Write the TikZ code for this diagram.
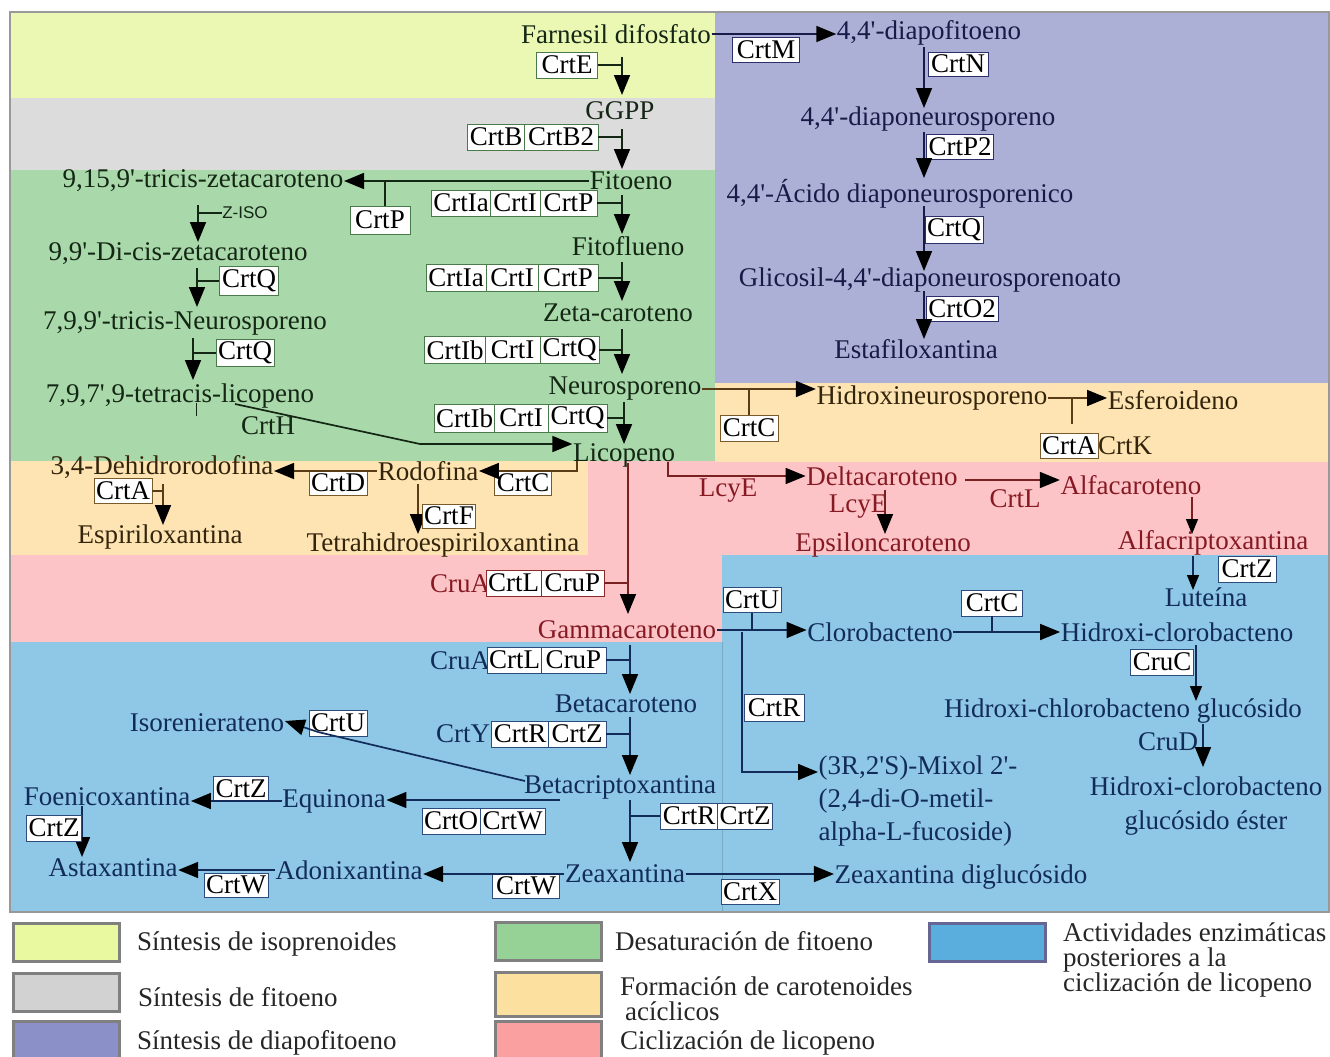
\documentclass[tikz,border=0pt]{standalone}
\usepackage{fontspec}
\setmainfont{Liberation Serif}[Ligatures=TeXOff]
\newfontfamily\sanslbl{Liberation Sans}
\usetikzlibrary{arrows.meta,calc}

% region fills
\definecolor{bgYel}{HTML}{EBF8B4}
\definecolor{bgGray}{HTML}{DCDCDC}
\definecolor{bgPurple}{HTML}{ADB0D6}
\definecolor{bgGreen}{HTML}{A9D9AA}
\definecolor{bgOrange}{HTML}{FDE4B2}
\definecolor{bgPink}{HTML}{FDC4C8}
\definecolor{bgBlue}{HTML}{8EC8E6}
% legend swatches
\definecolor{lgYel}{HTML}{E9F9A0}
\definecolor{lgGray}{HTML}{D2D2D2}
\definecolor{lgPurple}{HTML}{8C90C8}
\definecolor{lgGreen}{HTML}{96D296}
\definecolor{lgOrange}{HTML}{FCE0A0}
\definecolor{lgPink}{HTML}{FAA0A0}
\definecolor{lgBlue}{HTML}{5AAEDE}
% inks
\definecolor{inkG}{HTML}{142614}
\definecolor{boxG}{HTML}{4A7A4A}
\definecolor{inkP}{HTML}{181A48}
\definecolor{boxP}{HTML}{2B2F6A}
\definecolor{inkO}{HTML}{33240C}
\definecolor{lnO}{HTML}{5A3C18}
\definecolor{boxO}{HTML}{7A5A2A}
\definecolor{inkR}{HTML}{861A23}
\definecolor{lnR}{HTML}{7B2020}
\definecolor{boxR}{HTML}{8C2A2A}
\definecolor{inkB}{HTML}{122B58}
\definecolor{boxB}{HTML}{2C4C7C}

\newcommand\txtfont{\fontsize{27}{30}\selectfont}

\begin{document}
\begin{tikzpicture}[x=1pt,y=-1pt,
  cmp/.style={inner sep=0.5pt, font=\txtfont},
  enz/.style={draw, fill=white, text=black, inner xsep=2pt, inner ysep=0pt,
              minimum height=26pt, line width=0.9pt, font=\txtfont},
  arr/.style={line width=1.7pt, -{Triangle[length=20pt,width=16pt,color=black]}},
  sarr/.style={line width=1.4pt, -{Triangle[length=15pt,width=12pt,color=black]}},
  tick/.style={line width=1.7pt},
  swatch/.style={draw=black!50, line width=3pt, minimum width=106pt, minimum height=38pt, inner sep=0pt},
  legtxt/.style={inner sep=0pt, anchor=west, font=\fontsize{27}{25}\selectfont, text=black!85, align=left}]

\useasboundingbox (0,0) rectangle (1330,1057);

% ---------- background regions ----------
\fill[bgYel]    (10,12)   rectangle (715,98);
\fill[bgGray]   (10,98)   rectangle (715,170);
\fill[bgGreen]  (10,170)  rectangle (715,461);
\fill[bgPurple] (715,12)  rectangle (1330,383);
\fill[bgPink]   (588,461) rectangle (1330,555);
\fill[bgOrange] (715,383) rectangle (1330,462);
\fill[bgOrange] (10,461)  rectangle (588,555);
\fill[bgPink]   (10,555)  rectangle (722,642);
\fill[bgBlue]   (722,555) rectangle (1330,912);
\fill[bgBlue]   (10,642)  rectangle (722,912);
\draw[bgBlue!85!black, line width=0.4pt] (722,642) -- (722,912);
\draw[black!40, line width=2pt] (10,12) rectangle (1329,912);

% ---------- isoprenoids, phytoene and desaturation ----------
\begin{scope}[color=inkG]
  \node[cmp] (fds)  at (616,34)  {Farnesil difosfato};
  \node[enz, draw=boxG, minimum width=61pt] (crtE) at (567,65) {CrtE};
  \node[cmp] (ggpp) at (620,111) {GGPP};
  \node[enz, draw=boxG, minimum width=56pt] (crtB)  at (496,137) {CrtB};
  \node[enz, draw=boxG, minimum width=74pt] (crtB2) at (561,137) {CrtB2};
  \node[cmp] (fit)  at (631,181) {Fitoeno};

  \coordinate (p1) at (622,57);  \coordinate (p1e) at (622,95);
  \draw[arr] (p1) -- (p1e);
  \draw[tick] (crtE.east) -- (crtE.east -| p1);
  \coordinate (p2) at (622,129); \coordinate (p2e) at (622,169);
  \draw[arr] (p2) -- (p2e);
  \draw[tick] (crtB2.east) -- (crtB2.east -| p2);

  % cis branch
  \node[cmp] (tz) at (203,181) {9,15,9'-tricis-zetacaroteno};
  \node[enz, draw=boxG, minimum width=60pt, minimum height=28pt] (crtPa) at (380,220) {CrtP};
  \draw[arr] (fit.west) -- (fit.west -| tz.east);
  \draw[tick] ([xshift=5pt]crtPa.north) -- ([xshift=5pt]crtPa.north |- fit.west);

  \coordinate (z1) at (198,205); \coordinate (z1e) at (198,242);
  \node[inner sep=0pt, font=\sanslbl\fontsize{17}{18}\selectfont] (ziso) at (245,213) {Z-ISO};
  \draw[arr] (z1) -- (z1e);
  \draw[tick] (ziso.west) -- (ziso.west -| z1);

  \node[cmp] (dicis) at (178,254) {9,9'-Di-cis-zetacaroteno};
  \node[enz, draw=boxG, minimum width=59pt, minimum height=29pt] (crtQa) at (249,281) {CrtQ};
  \coordinate (z2) at (197,268); \coordinate (z2e) at (197,307);
  \draw[arr] (z2) -- (z2e);
  \draw[tick] (crtQa.west) -- (crtQa.west -| z2);

  \node[cmp] (tricis) at (185,323) {7,9,9'-tricis-Neurosporeno};
  \node[enz, draw=boxG, minimum width=57pt, minimum height=27pt] (crtQb) at (245,353) {CrtQ};
  \coordinate (z3) at (193,338); \coordinate (z3e) at (193,380);
  \draw[arr] (z3) -- (z3e);
  \draw[tick] (crtQb.west) -- (crtQb.west -| z3);

  \node[cmp] (tetra) at (180,396) {7,9,7',9-tetracis-licopeno};
  \coordinate (h0) at (196,403);
  \draw[line width=1pt] (h0) -- ++(0,13);
  \node[cmp] (crtH) at (268,426) {CrtH};

  % main desaturation column
  \node[enz, draw=boxG, minimum width=58pt] (ia1) at (461,203)   {CrtIa};
  \node[enz, draw=boxG, minimum width=50pt] (ii1) at (515,203)   {CrtI};
  \node[enz, draw=boxG, minimum width=57pt] (ip1) at (568.5,203) {CrtP};
  \coordinate (r1) at (622,195); \coordinate (r1e) at (622,234);
  \draw[arr] (r1) -- (r1e);
  \draw[tick] (ip1.east) -- (ip1.east -| r1);
  \node[cmp] (fitf) at (628,246) {Fitoflueno};

  \node[enz, draw=boxG, minimum width=60pt, minimum height=27pt] (ia2) at (456,278) {CrtIa};
  \node[enz, draw=boxG, minimum width=52pt, minimum height=27pt] (ii2) at (512,278) {CrtI};
  \node[enz, draw=boxG, minimum width=60pt, minimum height=27pt] (ip2) at (568,278) {CrtP};
  \coordinate (r2) at (622,262); \coordinate (r2e) at (622,301);
  \draw[arr] (r2) -- (r2e);
  \draw[tick] (ip2.east) -- (ip2.east -| r2);
  \node[cmp] (zeta) at (618,313) {Zeta-caroteno};

  \node[enz, draw=boxG, minimum width=60pt, minimum height=27pt] (ib3) at (455,350)   {CrtIb};
  \node[enz, draw=boxG, minimum width=55pt, minimum height=27pt] (ii3) at (512.5,350) {CrtI};
  \node[enz, draw=boxG, minimum width=59pt, minimum height=27pt] (iq3) at (569.5,350) {CrtQ};
  \coordinate (r3) at (622,329); \coordinate (r3e) at (622,374);
  \draw[arr] (r3) -- (r3e);
  \draw[tick] (iq3.east) -- (iq3.east -| r3);
  \node[cmp] (neu) at (625,389) {Neurosporeno};

  \node[enz, draw=boxG, minimum width=59pt, minimum height=28pt] (ib4) at (464.5,418) {CrtIb};
  \node[enz, draw=boxG, minimum width=54pt, minimum height=28pt] (ii4) at (521,418)   {CrtI};
  \node[enz, draw=boxG, minimum width=59pt, minimum height=28pt] (iq4) at (577.5,418) {CrtQ};
  \coordinate (r4) at (624,402); \coordinate (r4e) at (624,444);
  \draw[arr] (r4) -- (r4e);
  \draw[tick] (iq4.east) -- (iq4.east -| r4);
  \node[cmp] (lic) at (624,455) {Licopeno};

  \coordinate (h1) at (235,404); \coordinate (h2) at (420,444);
  \draw[arr] (h1) -- (h2) -- (h2 -| lic.west);
\end{scope}

% ---------- diapophytoene branch ----------
\begin{scope}[color=inkP]
  \node[cmp] (dfit) at (929,33) {4,4'-diapofitoeno};
  \node[enz, draw=boxP, minimum width=67pt, minimum height=25pt] (crtM) at (766,50) {CrtM};
  \draw[arr] (fds.east) -- (fds.east -| dfit.west);

  \node[enz, draw=boxP, minimum width=60pt, minimum height=24pt] (crtN) at (958,64) {CrtN};
  \coordinate (q1) at (924,47); \coordinate (q1e) at (924,108);
  \draw[arr] (q1) -- (q1e);
  \node[cmp] (dneu) at (928,119) {4,4'-diaponeurosporeno};

  \node[enz, draw=boxP, minimum width=64pt, minimum height=25pt] (crtP2) at (960,147) {CrtP2};
  \coordinate (q2) at (924,132); \coordinate (q2e) at (924,178);
  \draw[arr] (q2) -- (q2e);
  \node[cmp] (acid) at (900,194) {4,4'-Ácido diaponeurosporenico};

  \node[enz, draw=boxP, minimum width=56pt, minimum height=27pt] (crtQp) at (954,230) {CrtQ};
  \coordinate (q3) at (924,206); \coordinate (q3e) at (924,271);
  \draw[arr] (q3) -- (q3e);
  \node[cmp] (glic) at (930,280) {Glicosil-4,4'-diaponeurosporenoato};

  \node[enz, draw=boxP, minimum width=72pt, minimum height=25pt] (crtO2) at (962,309) {CrtO2};
  \coordinate (q4) at (924,291); \coordinate (q4e) at (924,339);
  \draw[arr] (q4) -- (q4e);
  \node[cmp] (estaf) at (916,349) {Estafiloxantina};
\end{scope}

% ---------- acyclic carotenoids ----------
\begin{scope}[color=inkO]
  \node[cmp] (hneu) at (932,398) {Hidroxineurosporeno};
  \node[enz, draw=boxO, minimum width=58pt] (crtCa) at (749,428) {CrtC};
  \draw[arr, draw=lnO] (neu.east) -- (neu.east -| hneu.west);
  \draw[tick, draw=lnO] (crtCa.north) -- (crtCa.north |- neu.east);

  \node[cmp] (esf) at (1173,400) {Esferoideno};
  \node[enz, draw=boxO, minimum width=55pt, minimum height=25pt] (crtAa) at (1069,446) {CrtA};
  \node[cmp] (crtK) at (1125,446) {CrtK};
  \draw[arr, draw=lnO] (hneu.east) -- (hneu.east -| esf.west);
  \coordinate (k1) at (1072,424);
  \draw[tick, draw=lnO] (k1) -- (k1 |- hneu.east);

  \node[cmp] (rod) at (428,471) {Rodofina};
  \node[enz, draw=boxO, minimum width=55pt, minimum height=25pt] (crtCb) at (523,483) {CrtC};
  \coordinate (l1) at (577,461);
  \draw[arr, draw=lnO] (l1) |- (rod.east);

  \node[cmp] (dehi) at (162,467) {3,4-Dehidrorodofina};
  \node[enz, draw=boxO, minimum width=55pt, minimum height=24pt] (crtD) at (338,483) {CrtD};
  \draw[arr, draw=lnO] (rod.west) -- (rod.west -| dehi.east);

  \node[enz, draw=boxO, minimum width=56pt, minimum height=25pt] (crtAb) at (123,491) {CrtA};
  \coordinate (s1) at (163,484); \coordinate (s1e) at (163,525);
  \draw[arr, draw=lnO] (s1) -- (s1e);
  \draw[tick, draw=lnO] (crtAb.east) -- (crtAb.east -| s1);
  \node[cmp] (espi) at (160,537) {Espiriloxantina};

  \coordinate (f1) at (418,484); \coordinate (f1e) at (418,534);
  \draw[arr, draw=lnO] (f1) -- (f1e);
  \node[enz, draw=boxO, minimum width=50pt, minimum height=24pt] (crtF) at (449,516) {CrtF};
  \node[cmp] (tetrah) at (443,545) {Tetrahidroespiriloxantina};
\end{scope}

% ---------- lycopene cyclization ----------
\begin{scope}[color=inkR]
  \node[cmp] (cruA1) at (460,584) {CruA};
  \node[enz, draw=boxR, minimum width=55pt] (crtL1) at (513.5,583) {CrtL};
  \node[enz, draw=boxR, minimum width=63pt] (cruP1) at (572.5,583) {CruP};
  \coordinate (m1) at (628,463); \coordinate (m1e) at (628,614);
  \draw[arr, draw=lnR] (m1) -- (m1e);
  \draw[tick, draw=lnR] (cruP1.east) -- (cruP1.east -| m1);
  \node[cmp] (gamma) at (627,630) {Gammacaroteno};

  \node[cmp] (delta) at (882,476) {Deltacaroteno};
  \node[cmp] (lcy1) at (728,491) {LcyE};
  \coordinate (d1) at (668,462);
  \draw[arr, draw=lnR] (d1) |- (delta.west);

  \coordinate (e1) at (885,490); \coordinate (e1e) at (885,534);
  \node[cmp] (lcy2) at (858,507) {LcyE};
  \draw[arr, draw=lnR] (e1) -- (e1e);
  \node[cmp] (eps) at (883,545) {Epsiloncaroteno};

  \node[cmp] (alfa) at (1131,485) {Alfacaroteno};
  \node[cmp] (crtL2) at (1015,499) {CrtL};
  \coordinate (dl1) at (965,480);
  \draw[arr, draw=lnR] (dl1) -- (dl1 -| alfa.west);

  \coordinate (a1) at (1192,497); \coordinate (a1e) at (1192,534);
  \draw[sarr, draw=lnR] (a1) -- (a1e);
  \node[cmp] (acrip) at (1213,543) {Alfacriptoxantina};
\end{scope}

% ---------- activities after cyclization ----------
\begin{scope}[color=inkB]
  \coordinate (b1) at (1193,556); \coordinate (b1e) at (1193,590);
  \draw[sarr] (b1) -- (b1e);
  \node[enz, draw=boxB, minimum width=58pt] (crtZa) at (1247,569) {CrtZ};
  \node[cmp] (lut) at (1206,597) {Luteína};

  \node[cmp] (clor) at (880,632) {Clorobacteno};
  \node[enz, draw=boxB, minimum width=55pt, minimum height=25pt] (crtUa) at (752,600) {CrtU};
  \draw[arr] (gamma.east) -- (gamma.east -| clor.west);
  \draw[tick] (crtUa.south) -- (crtUa.south |- gamma.east);

  \node[cmp] (hcl) at (1177,632) {Hidroxi-clorobacteno};
  \node[enz, draw=boxB, minimum width=61pt] (crtCc) at (992,603) {CrtC};
  \draw[arr] (clor.east) -- (clor.east -| hcl.west);
  \draw[tick] (crtCc.south) -- (crtCc.south |- clor.east);

  \coordinate (c1) at (1196,645); \coordinate (c1e) at (1196,701);
  \draw[sarr] (c1) -- (c1e);
  \node[enz, draw=boxB, minimum width=60pt] (cruC) at (1162,662) {CruC};
  \node[cmp] (hclg) at (1123,711) {Hidroxi-chlorobacteno glucósido};

  \coordinate (c2) at (1203,724); \coordinate (c2e) at (1203,767);
  \draw[arr] (c2) -- (c2e);
  \node[cmp] (cruD) at (1168,742) {CruD};
  \node[cmp, align=center, font=\fontsize{27}{34}\selectfont] (hcle) at (1206,806) {Hidroxi-clorobacteno\\glucósido éster};

  \node[cmp, align=left, anchor=north west, font=\fontsize{27}{33}\selectfont] (mix) at (818,755)
       {(3R,2'S)-Mixol 2'-\\(2,4-di-O-metil-\\alpha-L-fucoside)};
  \coordinate (x1) at (742,632); \coordinate (x2) at (742,772);
  \draw[arr] (x1) -- (x2) -- (x2 -| mix.west);
  \node[enz, draw=boxB, minimum width=60pt, minimum height=27pt] (crtRa) at (774,708) {CrtR};

  % beta branch
  \node[cmp] (cruA2) at (460,661) {CruA};
  \node[enz, draw=boxB, minimum width=53pt] (crtL3) at (514.5,660) {CrtL};
  \node[enz, draw=boxB, minimum width=65pt] (cruP2) at (573.5,660) {CruP};
  \coordinate (g1) at (630,645); \coordinate (g1e) at (630,694);
  \draw[arr] (g1) -- (g1e);
  \draw[tick] (cruP2.east) -- (cruP2.east -| g1);
  \node[cmp] (beta) at (626,704) {Betacaroteno};

  \node[cmp] (crtY) at (463,734) {CrtY};
  \node[enz, draw=boxB, minimum width=56pt] (crtRb) at (520,734) {CrtR};
  \node[enz, draw=boxB, minimum width=58pt] (crtZb) at (577,734) {CrtZ};
  \coordinate (g2) at (630,717); \coordinate (g2e) at (630,775);
  \draw[arr] (g2) -- (g2e);
  \draw[tick] (crtZb.east) -- (crtZb.east -| g2);
  \node[cmp] (bcrip) at (620,787) {Betacriptoxantina};

  \node[cmp] (iso) at (207,723) {Isorenierateno};
  \node[enz, draw=boxB, minimum width=55pt] (crtUb) at (338,723) {CrtU};
  \coordinate (i1) at (525,781); \coordinate (i2) at (318,732);
  \draw[arr] (i1) -- (i2) -- ([yshift=2pt]iso.east);

  \node[cmp] (equ) at (334,801) {Equinona};
  \node[enz, draw=boxB, minimum width=57pt] (crtO) at (451,821) {CrtO};
  \node[enz, draw=boxB, minimum width=65pt] (crtW1) at (512.5,821) {CrtW};
  \coordinate (eq1) at (560,800);
  \draw[arr] (eq1) -- (eq1 -| equ.east);

  \node[cmp] (foen) at (107,797) {Foenicoxantina};
  \node[enz, draw=boxB, minimum width=53pt, minimum height=25pt] (crtZc) at (241,789) {CrtZ};
  \draw[arr] (equ.west) -- (equ.west -| foen.east);

  \coordinate (fo1) at (82,806); \coordinate (fo1e) at (82,857);
  \draw[arr] (fo1) -- (fo1e);
  \node[enz, draw=boxB, minimum width=52pt] (crtZd) at (54,828) {CrtZ};
  \node[cmp] (asta) at (113,868) {Astaxantina};

  \coordinate (g3) at (630,800); \coordinate (g3e) at (630,862);
  \draw[arr] (g3) -- (g3e);
  \node[enz, draw=boxB, minimum width=58pt] (crtRc) at (689,816) {CrtR};
  \node[enz, draw=boxB, minimum width=54pt] (crtZe) at (745,816) {CrtZ};
  \draw[tick] (crtRc.west) -- (crtRc.west -| g3);
  \node[cmp] (zea) at (625,874) {Zeaxantina};

  \node[cmp] (adon) at (349,870) {Adonixantina};
  \node[enz, draw=boxB, minimum width=67pt, minimum height=25pt] (crtWa) at (526,886) {CrtW};
  \draw[arr] (zea.west) -- (zea.west -| adon.east);

  \node[enz, draw=boxB, minimum width=63pt, minimum height=24pt] (crtWb) at (236,885) {CrtW};
  \draw[arr] (adon.west) -- (adon.west -| asta.east);

  \node[cmp] (zdig) at (961,877) {Zeaxantina diglucósido};
  \node[enz, draw=boxB, minimum width=56pt, minimum height=25pt] (crtX) at (750,892) {CrtX};
  \draw[arr] (zea.east) -- (zea.east -| zdig.west);
\end{scope}

% ---------- legend ----------
\node[swatch, fill=lgYel]    (sw1) at (66,942)  {};
\node[swatch, fill=lgGray]   (sw2) at (66,992)  {};
\node[swatch, fill=lgPurple] (sw3) at (66,1040) {};
\node[swatch, fill=lgGreen]  (sw4) at (548,941) {};
\node[swatch, fill=lgOrange, minimum height=44pt] (sw5) at (548,994) {};
\node[swatch, fill=lgPink]   (sw6) at (548,1040) {};
\node[swatch, fill=lgBlue, draw=black!70!blue!60, minimum width=116pt] (sw7) at (987,942) {};

\node[legtxt] (lg1) at (137,944)  {Síntesis de isoprenoides};
\node[legtxt] (lg2) at (138,997)  {Síntesis de fitoeno};
\node[legtxt] (lg3) at (137,1043) {Síntesis de diapofitoeno};
\node[legtxt] (lg4) at (615,941)  {Desaturación de fitoeno};
\node[legtxt] (lg5) at (620,999)  {Formación de carotenoides\\\hspace*{5pt}acíclicos};
\node[legtxt] (lg6) at (620,1043) {Ciclización de licopeno};
\node[legtxt, font=\fontsize{27}{24.5}\selectfont] (lg7) at (1063,960)
     {Actividades enzimáticas\\posteriores a la\\ciclización de licopeno};
\end{tikzpicture}
\end{document}
